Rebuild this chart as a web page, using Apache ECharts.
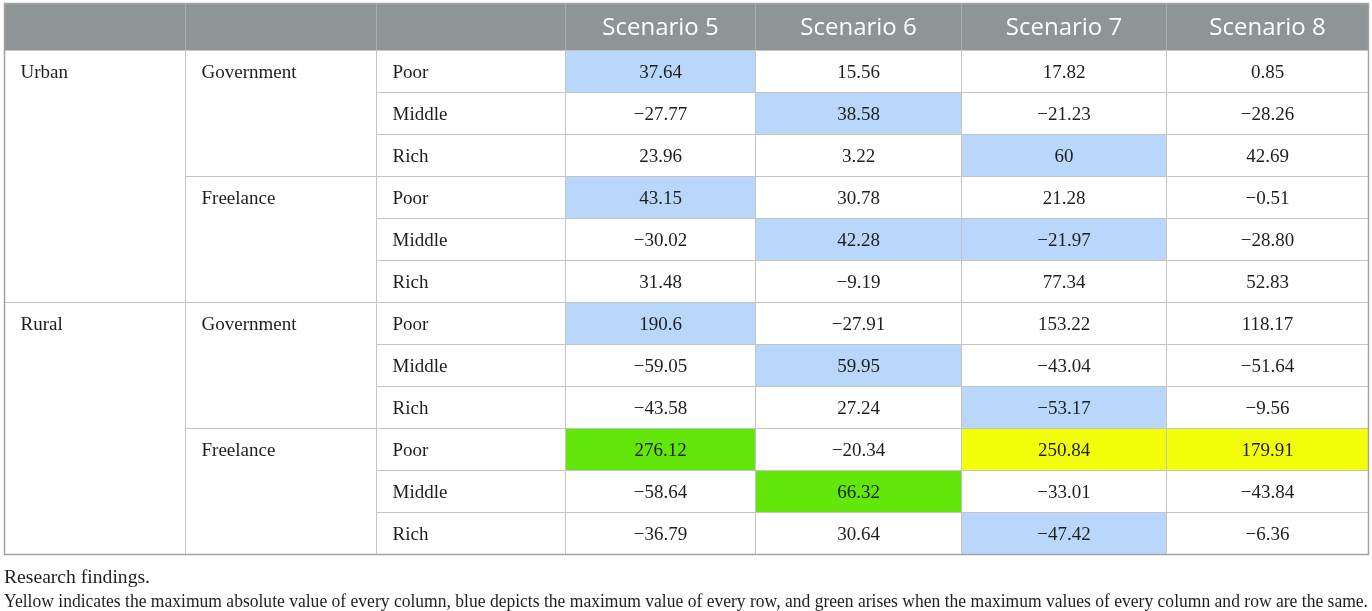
<!DOCTYPE html>
<html>
<head>
<meta charset="utf-8">
<script src="https://cdn.jsdelivr.net/npm/echarts@6/dist/echarts.min.js"></script>
<style>
  html, body { margin: 0; padding: 0; background: #fff; }
  #chart { width: 1372px; height: 611px; }
</style>
</head>
<body>
<div id="chart"></div>
<script>
// table content
var regions = ['Urban', 'Rural'];
var occupations = ['Government', 'Freelance'];
var incomes = ['Poor', 'Middle', 'Rich'];
var scenarios = ['Scenario 5', 'Scenario 6', 'Scenario 7', 'Scenario 8'];

// one array per scenario, rows in order region > occupation > income
var scenario5 = ['37.64', '-27.77', '23.96', '43.15', '-30.02', '31.48', '190.6', '-59.05', '-43.58', '276.12', '-58.64', '-36.79'];
var scenario6 = ['15.56', '38.58', '3.22', '30.78', '42.28', '-9.19', '-27.91', '59.95', '27.24', '-20.34', '66.32', '30.64'];
var scenario7 = ['17.82', '-21.23', '60', '21.28', '-21.97', '77.34', '153.22', '-43.04', '-53.17', '250.84', '-33.01', '-47.42'];
var scenario8 = ['0.85', '-28.26', '42.69', '-0.51', '-28.80', '52.83', '118.17', '-51.64', '-9.56', '179.91', '-43.84', '-6.36'];

// highlight per row: b = row max, y = column abs max, g = both
var marks = [
    ['b', '', '', ''],
    ['', 'b', '', ''],
    ['', '', 'b', ''],
    ['b', '', '', ''],
    ['', 'b', 'b', ''],
    ['', '', '', ''],
    ['b', '', '', ''],
    ['', 'b', '', ''],
    ['', '', 'b', ''],
    ['g', '', 'y', 'y'],
    ['', 'g', '', ''],
    ['', '', 'b', '']
];

var captionLines = [
    'Research findings.',
    'Yellow indicates the maximum absolute value of every column, blue depicts the maximum value of every row, and green arises when the maximum values of every column and row are the same.'
];

// layout
var colWidths = [181, 191, 189, 190, 206, 205, 202];
var headerH = 47, rowH = 42;
var captionWidths = [146, 1364];
var markColors = { b: '#b9d7fb', g: '#63e60a', y: '#f3ff0a' };

var colEdges = [0];
colWidths.forEach(function(w) { colEdges.push(colEdges[colEdges.length - 1] + w); });
var nRows = regions.length * occupations.length * incomes.length;
var tableW = colEdges[colEdges.length - 1];
var tableH = headerH + nRows * rowH;

function rowTop(r) {
    return r === 0 ? 0 : headerH + (r - 1) * rowH;
}

var columns = [scenario5, scenario6, scenario7, scenario8];

// cells: [col, row, rowSpan, text, kind, mark]
var cells = [];
for (var c = 0; c < colWidths.length; c++) {
    cells.push([c, 0, 1, c < 3 ? '' : scenarios[c - 3], 'head', '']);
}
regions.forEach(function(reg, ri) {
    occupations.forEach(function(occ, oi) {
        incomes.forEach(function(inc, ii) {
            var k = ri * 6 + oi * 3 + ii;
            var r = k + 1;
            if (oi === 0 && ii === 0) cells.push([0, r, 6, reg, 'label', '']);
            if (ii === 0) cells.push([1, r, 3, occ, 'label', '']);
            cells.push([2, r, 1, inc, 'label', '']);
            columns.forEach(function(col, si) {
                cells.push([3 + si, r, 1, col[k].replace('-', '\u2212'), 'value', marks[k][si]]);
            });
        });
    });
});

function renderCell(params, api) {
    var item = cells[params.dataIndex];
    var col = item[0], row = item[1], span = item[2], text = item[3], kind = item[4], mark = item[5];
    var p0 = api.coord([colEdges[col], rowTop(row)]);
    var p1 = api.coord([colEdges[col + 1], rowTop(row + span)]);
    var firstBottom = api.coord([0, rowTop(row + 1)])[1];
    var w = p1[0] - p0[0], h = p1[1] - p0[1];
    var isHead = kind === 'head';
    var isLabel = kind === 'label';
    var fill = isHead ? '#8f9496' : (mark ? markColors[mark] : '#ffffff');
    var stroke = isHead ? '#a9adaf' : '#c4c4c4';
    var children = [{
        type: 'rect',
        shape: { x: p0[0], y: p0[1], width: w, height: h },
        style: { fill: fill, stroke: stroke, lineWidth: 1 }
    }];
    if (text) {
        children.push({
            type: 'text',
            x: isLabel ? p0[0] + 16 : p0[0] + w / 2,
            y: (p0[1] + firstBottom) / 2 + (isHead ? 1 : 2),
            style: {
                text: text,
                fill: isHead ? '#ffffff' : '#1e1e1e',
                font: isHead ? '24px "Open Sans"' : '19px "Liberation Serif"',
                align: isLabel ? 'left' : 'center',
                verticalAlign: 'middle'
            }
        });
    }
    return { type: 'group', children: children };
}

// fit the caption lines to their widths
var ctx = document.createElement('canvas').getContext('2d');
var capFont = '18px "Liberation Serif"';
ctx.font = capFont;
var capScales = captionLines.map(function(t, i) {
    return captionWidths[i] / ctx.measureText(t).width;
});

var chart = echarts.init(document.getElementById('chart'));
var option = {
    animation: false,
    grid: { left: 4.5, top: 3.5, width: tableW, height: tableH },
    xAxis: { type: 'value', min: 0, max: tableW, show: false },
    yAxis: { type: 'value', min: 0, max: tableH, inverse: true, show: false },
    graphic: [
        {
            type: 'rect',
            shape: { x: 4.5, y: 3.5, width: tableW, height: tableH },
            style: { fill: 'none', stroke: '#a3a3a3', lineWidth: 1.5 },
            z: 100
        },
        {
            type: 'text', x: 4, y: 578, scaleX: capScales[0],
            style: { text: captionLines[0], font: capFont, fill: '#1e1e1e', verticalAlign: 'middle' }
        },
        {
            type: 'text', x: 4, y: 602, scaleX: capScales[1],
            style: { text: captionLines[1], font: capFont, fill: '#1e1e1e', verticalAlign: 'middle' }
        }
    ],
    series: [{
        type: 'custom',
        renderItem: renderCell,
        data: cells.map(function(d, i) { return [i, 0]; }),
        silent: true
    }]
};
chart.setOption(option);

window.onresize = function() {
    chart.resize();
};
</script>
</body>
</html>
